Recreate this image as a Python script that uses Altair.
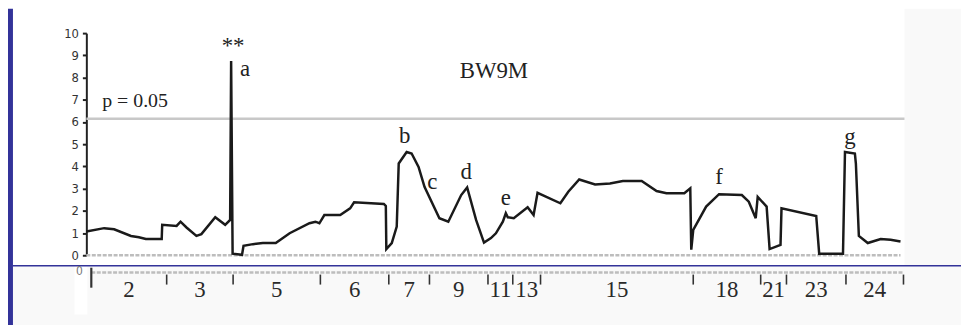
import altair as alt
import pandas as pd

# ---- data (position along genome, LOD score) ----
pos = [0, 18, 28, 45, 53, 60, 76, 76.5, 91, 95,
       101, 111, 116, 130, 140, 145, 146, 147.5, 157, 158.5,
       168, 178, 191, 205, 225, 231, 235, 240, 256, 266,
       270, 300, 302, 302.5, 308, 313, 315, 323, 328, 335,
       341, 356, 365, 378, 384, 393, 401, 408, 413, 420,
       423, 425, 431, 445, 451, 455, 478, 486, 497, 513,
       528, 541, 560, 575, 585, 603, 609, 610, 612, 625,
       638, 661, 668, 675, 677, 686, 689, 700, 701, 736,
       739, 763, 765, 775, 776, 779, 788, 801, 811, 821]
lod = [1.07, 1.22, 1.17, 0.87, 0.81, 0.73, 0.73, 1.37, 1.32, 1.51,
       1.25, 0.87, 0.95, 1.71, 1.37, 1.59, 8.75, 0.07, 0.02, 0.43,
       0.50, 0.55, 0.55, 0.99, 1.44, 1.51, 1.44, 1.81, 1.81, 2.11,
       2.38, 2.31, 2.22, 0.28, 0.55, 1.29, 4.13, 4.65, 4.58, 3.98,
       3.08, 1.67, 1.51, 2.71, 3.05, 1.59, 0.57, 0.77, 0.99, 1.51,
       1.89, 1.71, 1.67, 2.16, 1.81, 2.81, 2.34, 2.86, 3.41, 3.19,
       3.23, 3.34, 3.34, 2.89, 2.79, 2.79, 3.01, 0.25, 1.14, 2.19,
       2.75, 2.71, 2.41, 1.67, 2.63, 2.19, 0.28, 0.47, 2.11, 1.77,
       0.07, 0.07, 4.65, 4.58, 4.13, 0.87, 0.55, 0.73, 0.70, 0.62]

threshold = 6.14
threshold_label = "p = 0.05"
chart_title = "BW9M"

chrom_labels = ["2", "3", "5", "6", "7", "9", "11", "13", "15", "18", "21", "23", "24"]
chrom_start = [5, 81, 148, 236, 305, 346, 405, 430, 458, 612, 680, 706, 766]
chrom_end = [81, 148, 236, 305, 346, 405, 430, 458, 612, 680, 706, 766, 824]

peak_labels = ["**", "a", "b", "c", "d", "e", "f", "g"]
peak_x = [148, 160, 321, 349, 383, 423, 638, 770]
peak_y = [9.43, 8.40, 5.35, 3.29, 3.74, 2.57, 3.52, 5.31]

# ---- tables ----
line_df = pd.DataFrame({"pos": pos, "lod": lod, "i": range(len(pos))})
chrom_df = pd.DataFrame({"label": chrom_labels, "start": chrom_start, "end": chrom_end})
chrom_df["mid"] = (chrom_df["start"] + chrom_df["end"]) / 2
chrom_df["t1"] = -0.87
chrom_df["t2"] = -1.32
chrom_df["ly"] = -1.57
peaks_df = pd.DataFrame({"label": peak_labels, "x": peak_x, "y": peak_y})

XS = alt.Scale(domain=[0, 825], nice=False, zero=False)
YS = alt.Scale(domain=[0, 10], nice=False, zero=False)
yaxis = alt.Axis(values=list(range(11)), title=None, grid=False,
                 domainColor="#222", domainWidth=2, tickColor="#222",
                 tickWidth=2, tickSize=4, labelPadding=4,
                 labelFont="Liberation Sans Narrow, DejaVu Sans Condensed, sans-serif",
                 labelFontSize=13, labelColor="#333")

SERIF = "Liberation Serif, Times New Roman, serif"


def X(f):
    return alt.X(f, type="quantitative", scale=XS, axis=None)


def X2(f):
    return alt.X2(f)


def Y(f):
    return alt.Y(f, type="quantitative", scale=YS, axis=yaxis)


# decorations (backgrounds, slide frame)
bg_df = pd.DataFrame({
    "x": [-74, 825, -12],
    "x2": [882, 882, 1],
    "y": [-0.47, 11.1, -0.47],
    "y2": [-3.2, -0.47, -2.67],
    "c": ["#f9f9f9", "#f9f9f9", "#ffffff"],
})
bg = alt.Chart(bg_df).mark_rect().encode(
    x=X("x"), x2=X2("x2"), y=Y("y"), y2=alt.Y2("y2"),
    color=alt.Color("c:N", scale=None))

frame_df = pd.DataFrame({"x": [-79], "x2": [-74], "y": [11.1], "y2": [-3.2]})
frame = alt.Chart(frame_df).mark_rect(color="#333399").encode(
    x=X("x"), x2=X2("x2"), y=Y("y"), y2=alt.Y2("y2"))

navy_df = pd.DataFrame({"x": [-74], "x2": [882], "y": [-0.47]})
navy = alt.Chart(navy_df).mark_rule(color="#333399", strokeWidth=1.6).encode(
    x=X("x"), x2=X2("x2"), y=Y("y"))

# threshold and baseline
thr_df = pd.DataFrame({"x": [0], "x2": [825], "y": [threshold]})
thr = alt.Chart(thr_df).mark_rule(color="#c8c8c8", strokeWidth=2.5).encode(
    x=X("x"), x2=X2("x2"), y=Y("y"))

base_df = pd.DataFrame({"x": [0, 5], "x2": [821, 824], "y": [0, -0.78]})
base = alt.Chart(base_df).mark_rule(color="#bdbdbd", strokeWidth=2.6, strokeDash=[4, 1.5]).encode(
    x=X("x"), x2=X2("x2"), y=Y("y"))

# main LOD line
line = alt.Chart(line_df).mark_line(color="#1a1a1a", strokeWidth=2.5).encode(
    x=X("pos"), y=Y("lod"), order="i:Q")

# chromosome strip
ticks = alt.Chart(chrom_df).mark_rule(color="#333", strokeWidth=1.6).encode(
    x=X("end"), y=Y("t1"), y2=alt.Y2("t2"))
start_df = pd.DataFrame({"x": [5], "y": [-0.56], "y2": [-1.46]})
start_tick = alt.Chart(start_df).mark_rule(color="#333", strokeWidth=2.2).encode(
    x=X("x"), y=Y("y"), y2=alt.Y2("y2"))
chrom_text = alt.Chart(chrom_df).mark_text(
    font=SERIF, fontSize=23, color="#2a2a2a", baseline="middle", align="center").encode(
    x=X("mid"), y=Y("ly"), text="label:N")
zero_df = pd.DataFrame({"x": [-7], "y": [-0.69], "t": ["0"]})
zero_text = alt.Chart(zero_df).mark_text(
    font="Liberation Sans Narrow, DejaVu Sans Condensed, sans-serif",
    fontSize=12, color="#777", baseline="middle", align="center").encode(
    x=X("x"), y=Y("y"), text="t:N")

# annotations
peaks = alt.Chart(peaks_df).mark_text(
    font=SERIF, fontSize=23, color="#222", baseline="middle", align="center").encode(
    x=X("x"), y=Y("y"), text="label:N")
title_df = pd.DataFrame({"x": [411], "y": [8.31], "t": [chart_title]})
title = alt.Chart(title_df).mark_text(
    font=SERIF, fontSize=23, color="#222", baseline="middle", align="center").encode(
    x=X("x"), y=Y("y"), text="t:N")
pl_df = pd.DataFrame({"x": [16], "y": [6.96], "t": [threshold_label]})
plab = alt.Chart(pl_df).mark_text(
    font=SERIF, fontSize=20, color="#222", baseline="middle", align="left").encode(
    x=X("x"), y=Y("y"), text="t:N")

chart = alt.layer(
    bg, frame, navy, thr, base, line, ticks, start_tick, chrom_text, zero_text,
    peaks, title, plab
).properties(
    width=825, height=224,
    padding={"left": 79, "top": 24, "right": 57, "bottom": 69},
    autosize=alt.AutoSizeParams(type="none"),
    background="white",
).configure_view(stroke=None, fill="white")

chart.save("out.html", embed_options={"renderer": "svg", "actions": False})
